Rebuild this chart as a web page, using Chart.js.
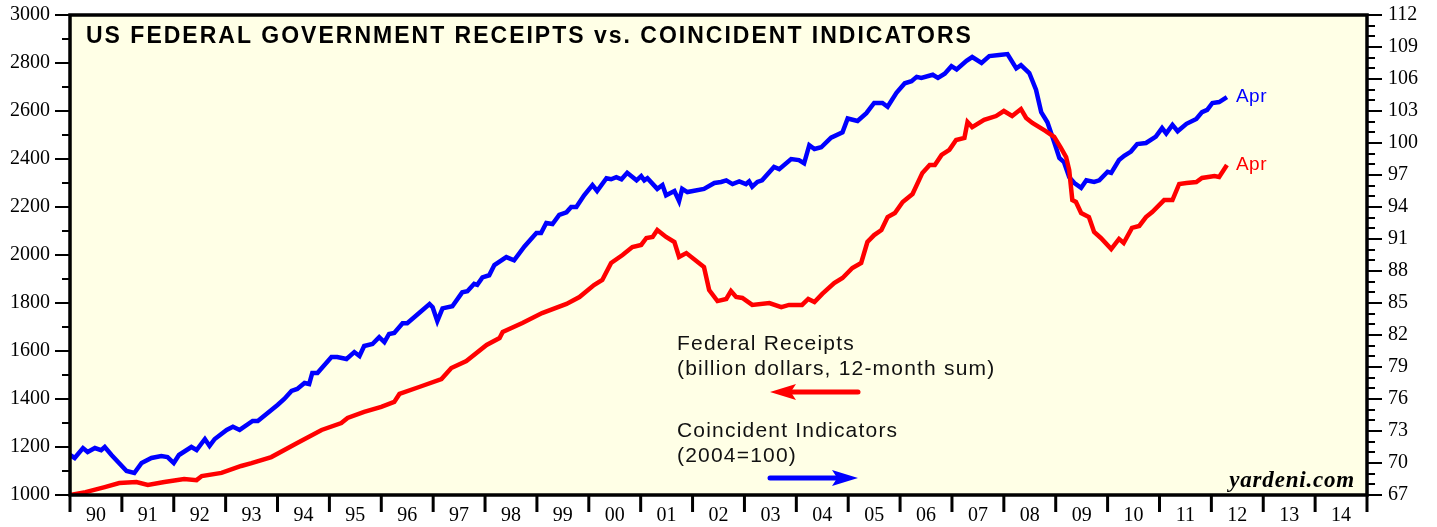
<!DOCTYPE html>
<html>
<head>
<meta charset="utf-8">
<script src="https://cdn.jsdelivr.net/npm/chart.js@4.4.1/dist/chart.umd.min.js"></script>
<style>
  body { margin: 0; background: #fff; }
  canvas { display: block; }
</style>
</head>
<body>
<canvas id="myChart" width="1437" height="527"></canvas>
<script>
// Federal receipts, billion dollars (12-month sum) - left axis
const receiptsDates = [1990.0, 1990.3, 1990.67, 1990.95, 1991.28, 1991.5, 1991.82, 1992.2, 1992.44, 1992.54, 1992.92, 1993.3, 1993.5, 1993.88, 1994.38, 1994.85, 1995.23, 1995.35, 1995.67, 1996.0, 1996.25, 1996.35, 1996.73, 1997.16, 1997.35, 1997.64, 1998.03, 1998.28, 1998.34, 1998.72, 1999.1, 1999.57, 1999.82, 2000.1, 2000.26, 2000.43, 2000.65, 2000.84, 2001.01, 2001.11, 2001.23, 2001.32, 2001.49, 2001.65, 2001.74, 2001.88, 2002.22, 2002.32, 2002.48, 2002.65, 2002.74, 2002.84, 2002.96, 2003.15, 2003.48, 2003.71, 2003.86, 2004.11, 2004.23, 2004.35, 2004.5, 2004.73, 2004.89, 2005.08, 2005.25, 2005.37, 2005.5, 2005.64, 2005.76, 2005.9, 2006.05, 2006.24, 2006.43, 2006.57, 2006.67, 2006.8, 2006.95, 2007.08, 2007.24, 2007.3, 2007.39, 2007.62, 2007.85, 2008.0, 2008.16, 2008.33, 2008.43, 2008.55, 2008.8, 2008.97, 2009.1, 2009.2, 2009.26, 2009.32, 2009.39, 2009.49, 2009.64, 2009.74, 2009.87, 2010.07, 2010.22, 2010.31, 2010.47, 2010.61, 2010.74, 2010.86, 2011.09, 2011.25, 2011.38, 2011.52, 2011.71, 2011.82, 2012.06, 2012.15, 2012.3];
const receiptsValues = [1000, 1012, 1033, 1050, 1054, 1042, 1054, 1067, 1062, 1079, 1092, 1121, 1133, 1158, 1217, 1271, 1300, 1321, 1346, 1367, 1388, 1421, 1450, 1483, 1529, 1558, 1625, 1654, 1679, 1717, 1758, 1796, 1825, 1875, 1896, 1967, 2000, 2033, 2042, 2071, 2075, 2104, 2075, 2054, 1992, 2008, 1950, 1854, 1808, 1817, 1850, 1825, 1821, 1792, 1800, 1783, 1792, 1792, 1817, 1804, 1838, 1883, 1904, 1946, 1967, 2054, 2083, 2104, 2158, 2175, 2221, 2254, 2342, 2375, 2375, 2417, 2438, 2479, 2488, 2554, 2533, 2563, 2579, 2600, 2579, 2608, 2571, 2550, 2517, 2492, 2446, 2408, 2354, 2229, 2221, 2175, 2158, 2096, 2071, 2025, 2067, 2050, 2113, 2121, 2158, 2179, 2229, 2229, 2296, 2300, 2304, 2321, 2329, 2325, 2375];

// Coincident indicators, 2004=100 - right axis
const indicatorDates = [1990.0, 1990.09, 1990.25, 1990.34, 1990.48, 1990.6, 1990.67, 1990.8, 1991.09, 1991.24, 1991.38, 1991.57, 1991.76, 1991.88, 1992.0, 1992.1, 1992.34, 1992.44, 1992.6, 1992.69, 1992.79, 1993.02, 1993.14, 1993.27, 1993.52, 1993.62, 1994.0, 1994.13, 1994.27, 1994.38, 1994.52, 1994.61, 1994.67, 1994.77, 1995.04, 1995.15, 1995.33, 1995.48, 1995.58, 1995.67, 1995.83, 1995.96, 1996.06, 1996.15, 1996.25, 1996.41, 1996.5, 1996.73, 1996.93, 1996.99, 1997.08, 1997.18, 1997.37, 1997.56, 1997.66, 1997.79, 1997.85, 1997.95, 1998.08, 1998.18, 1998.41, 1998.56, 1998.76, 1998.99, 1999.08, 1999.18, 1999.3, 1999.43, 1999.57, 1999.66, 1999.76, 1999.91, 2000.07, 2000.16, 2000.34, 2000.43, 2000.53, 2000.63, 2000.74, 2000.92, 2001.01, 2001.07, 2001.13, 2001.32, 2001.42, 2001.49, 2001.65, 2001.74, 2001.8, 2001.9, 2002.22, 2002.42, 2002.55, 2002.65, 2002.77, 2002.9, 2003.03, 2003.09, 2003.15, 2003.25, 2003.34, 2003.57, 2003.67, 2003.9, 2004.05, 2004.15, 2004.25, 2004.35, 2004.48, 2004.67, 2004.89, 2004.99, 2005.18, 2005.35, 2005.5, 2005.66, 2005.76, 2005.93, 2006.09, 2006.22, 2006.32, 2006.41, 2006.63, 2006.73, 2006.86, 2006.99, 2007.09, 2007.28, 2007.39, 2007.57, 2007.72, 2007.91, 2008.07, 2008.24, 2008.33, 2008.49, 2008.62, 2008.72, 2008.84, 2008.97, 2009.07, 2009.16, 2009.26, 2009.36, 2009.49, 2009.59, 2009.74, 2009.84, 2010.0, 2010.07, 2010.22, 2010.32, 2010.45, 2010.57, 2010.74, 2010.93, 2011.05, 2011.13, 2011.25, 2011.35, 2011.52, 2011.71, 2011.82, 2011.92, 2012.02, 2012.15, 2012.3];
const indicatorValues = [70.75, 70.47, 71.4, 71.03, 71.4, 71.2, 71.5, 70.75, 69.25, 69.06, 70.0, 70.47, 70.66, 70.56, 70.0, 70.75, 71.5, 71.22, 72.25, 71.6, 72.25, 73.1, 73.4, 73.1, 73.94, 73.94, 75.44, 76.0, 76.75, 76.94, 77.5, 77.4, 78.44, 78.44, 79.94, 79.94, 79.75, 80.4, 80.03, 80.97, 81.15, 81.8, 81.34, 82.1, 82.2, 83.1, 83.1, 84.06, 84.9, 84.6, 83.3, 84.5, 84.7, 86.0, 86.1, 86.8, 86.7, 87.4, 87.6, 88.56, 89.3, 89.0, 90.3, 91.56, 91.56, 92.5, 92.4, 93.25, 93.5, 94.0, 94.0, 95.1, 96.06, 95.5, 96.7, 96.6, 96.8, 96.6, 97.2, 96.5, 96.9, 96.5, 96.7, 95.7, 96.06, 95.1, 95.5, 94.56, 95.7, 95.4, 95.7, 96.25, 96.35, 96.5, 96.15, 96.4, 96.15, 96.4, 95.9, 96.35, 96.5, 97.75, 97.55, 98.5, 98.4, 98.1, 99.8, 99.44, 99.6, 100.5, 101.0, 102.3, 102.06, 102.8, 103.75, 103.75, 103.4, 104.7, 105.6, 105.8, 106.2, 106.1, 106.4, 106.1, 106.5, 107.2, 106.9, 107.7, 108.06, 107.5, 108.15, 108.25, 108.34, 107.0, 107.3, 106.56, 105.0, 102.9, 101.95, 100.1, 98.6, 98.2, 96.8, 96.25, 95.8, 96.5, 96.35, 96.5, 97.3, 97.2, 98.4, 98.8, 99.2, 99.9, 100.0, 100.6, 101.4, 100.9, 101.7, 101.1, 101.8, 102.25, 102.9, 103.1, 103.75, 103.84, 104.3];

// tick labels
const yearLabels = ['90', '91', '92', '93', '94', '95', '96', '97', '98', '99', '00', '01', '02', '03', '04', '05', '06', '07', '08', '09', '10', '11', '12', '13', '14'];
const leftTicks = [1000, 1200, 1400, 1600, 1800, 2000, 2200, 2400, 2600, 2800, 3000];
const rightTicks = [67, 70, 73, 76, 79, 82, 85, 88, 91, 94, 97, 100, 103, 106, 109, 112];

const serif = "'Liberation Serif', 'Times New Roman', serif";
const sans = "'Liberation Sans', Arial, Helvetica, sans-serif";

function toPoints(xs, ys) {
    return xs.map((x, i) => ({ x: x, y: ys[i] }));
}

// fixed axis sizes so the plot box lands where it is in the original
function fixWidth(s) {
    s.width = 70;
    s.paddingTop = 0;
    s.paddingBottom = 0;
}

// draws the frame, minor ticks, year ticks and the annotations
const decorPlugin = {
    id: 'decor',
    beforeDraw(chart) {
        const { ctx, chartArea: a } = chart;
        ctx.save();
        ctx.fillStyle = '#ffffe6';
        ctx.fillRect(a.left, a.top, a.right - a.left, a.bottom - a.top);
        ctx.restore();
    },
    afterDraw(chart) {
        const { ctx, chartArea: a } = chart;
        const xs = chart.scales.x;
        const yl = chart.scales.y;
        const yr = chart.scales.y1;
        ctx.save();
        ctx.strokeStyle = '#000';

        // left ticks
        ctx.lineWidth = 2;
        for (let v = 1000; v <= 3000; v += 100) {
            const y = Math.round(yl.getPixelForValue(v));
            const len = v % 200 === 0 ? 15 : 8;
            ctx.beginPath();
            ctx.moveTo(a.left - len, y);
            ctx.lineTo(a.left, y);
            ctx.stroke();
        }
        // right ticks
        for (let v = 67; v <= 112; v += 1) {
            const y = Math.round(yr.getPixelForValue(v));
            const len = (v - 67) % 3 === 0 ? 15 : 8;
            ctx.beginPath();
            ctx.moveTo(a.right, y);
            ctx.lineTo(a.right + len, y);
            ctx.stroke();
        }
        // year boundaries
        ctx.lineWidth = 3;
        for (let yr2 = 1990; yr2 <= 2015; yr2++) {
            const x = xs.getPixelForValue(yr2);
            ctx.beginPath();
            ctx.moveTo(x, a.bottom);
            ctx.lineTo(x, a.bottom + 17);
            ctx.stroke();
        }
        // frame
        ctx.lineWidth = 3.5;
        ctx.strokeRect(a.left, a.top, a.right - a.left, a.bottom - a.top);

        // title
        ctx.fillStyle = '#000';
        ctx.textAlign = 'left';
        ctx.textBaseline = 'alphabetic';
        ctx.font = 'bold 23px ' + sans;
        ctx.letterSpacing = '2px';
        ctx.fillText('US FEDERAL GOVERNMENT RECEIPTS vs. COINCIDENT INDICATORS', 86, 43);

        // legend text
        ctx.font = '21px ' + sans;
        ctx.letterSpacing = '1.2px';
        ctx.fillStyle = '#111';
        ctx.fillText('Federal Receipts', 677, 350);
        ctx.fillText('(billion dollars, 12-month sum)', 677, 375);
        ctx.fillText('Coincident Indicators', 677, 437);
        ctx.fillText('(2004=100)', 677, 462);
        ctx.letterSpacing = '0px';

        drawArrow(ctx, 858, 770, 392, '#ff0000');
        drawArrow(ctx, 770, 858, 478, '#0000ff');

        // end labels
        ctx.font = '19px ' + sans;
        ctx.letterSpacing = '0.5px';
        ctx.textBaseline = 'middle';
        const lastB = indicatorDates.length - 1;
        ctx.fillStyle = '#0000ff';
        ctx.fillText('Apr', xs.getPixelForValue(indicatorDates[lastB]) + 9, yr.getPixelForValue(indicatorValues[lastB]));
        const lastR = receiptsDates.length - 1;
        ctx.fillStyle = '#ff0000';
        ctx.fillText('Apr', xs.getPixelForValue(receiptsDates[lastR]) + 9, yl.getPixelForValue(receiptsValues[lastR]));

        // source
        ctx.fillStyle = '#000';
        ctx.textAlign = 'right';
        ctx.textBaseline = 'alphabetic';
        ctx.font = 'italic bold 23px ' + serif;
        ctx.letterSpacing = '0.8px';
        ctx.fillText('yardeni.com', 1355, 487);
        ctx.restore();
    }
};

function drawArrow(ctx, x0, x1, y, color) {
    const dir = x1 > x0 ? 1 : -1;
    const head = 26;
    ctx.save();
    ctx.strokeStyle = color;
    ctx.fillStyle = color;
    ctx.lineWidth = 5;
    ctx.lineCap = 'round';
    ctx.beginPath();
    ctx.moveTo(x0, y);
    ctx.lineTo(x1 - dir * head * 0.8, y);
    ctx.stroke();
    ctx.beginPath();
    ctx.moveTo(x1, y);
    ctx.lineTo(x1 - dir * head, y - 8);
    ctx.lineTo(x1 - dir * head * 0.8, y);
    ctx.lineTo(x1 - dir * head, y + 8);
    ctx.closePath();
    ctx.fill();
    ctx.restore();
}

const ctx = document.getElementById('myChart').getContext('2d');
const chart = new Chart(ctx, {
    type: 'line',
    data: {
        datasets: [{
            label: 'Federal Receipts',
            data: toPoints(receiptsDates, receiptsValues),
            borderColor: '#ff0000',
            borderWidth: 4.5,
            pointRadius: 0,
            yAxisID: 'y'
        }, {
            label: 'Coincident Indicators',
            data: toPoints(indicatorDates, indicatorValues),
            borderColor: '#0000ff',
            borderWidth: 4.5,
            pointRadius: 0,
            yAxisID: 'y1'
        }]
    },
    options: {
        responsive: false,
        animation: false,
        layout: { padding: { top: 15, left: 0, right: 0, bottom: 0 } },
        plugins: {
            legend: { display: false },
            tooltip: { enabled: false }
        },
        scales: {
            x: {
                type: 'linear',
                min: 1990,
                max: 2015,
                grid: { display: false, drawTicks: false },
                border: { display: false },
                afterBuildTicks: s => { s.ticks = yearLabels.map((l, i) => ({ value: 1990.5 + i })); },
                afterFit: s => { s.height = 32; s.paddingLeft = 0; s.paddingRight = 0; },
                ticks: {
                    autoSkip: false,
                    maxRotation: 0,
                    padding: 9,
                    color: '#000',
                    font: { family: serif, size: 20 },
                    callback: (v, i) => yearLabels[i]
                }
            },
            y: {
                position: 'left',
                min: 1000,
                max: 3000,
                grid: { display: false, drawTicks: false },
                border: { display: false },
                afterBuildTicks: s => { s.ticks = leftTicks.map(v => ({ value: v })); },
                afterFit: fixWidth,
                ticks: {
                    padding: 20,
                    color: '#000',
                    font: { family: serif, size: 20 },
                    callback: v => String(v)
                }
            },
            y1: {
                position: 'right',
                min: 67,
                max: 112,
                grid: { display: false, drawTicks: false },
                border: { display: false },
                afterBuildTicks: s => { s.ticks = rightTicks.map(v => ({ value: v })); },
                afterFit: fixWidth,
                ticks: {
                    padding: 21,
                    color: '#000',
                    font: { family: serif, size: 20 },
                    callback: v => String(v)
                }
            }
        }
    },
    plugins: [decorPlugin]
});
</script>
</body>
</html>
